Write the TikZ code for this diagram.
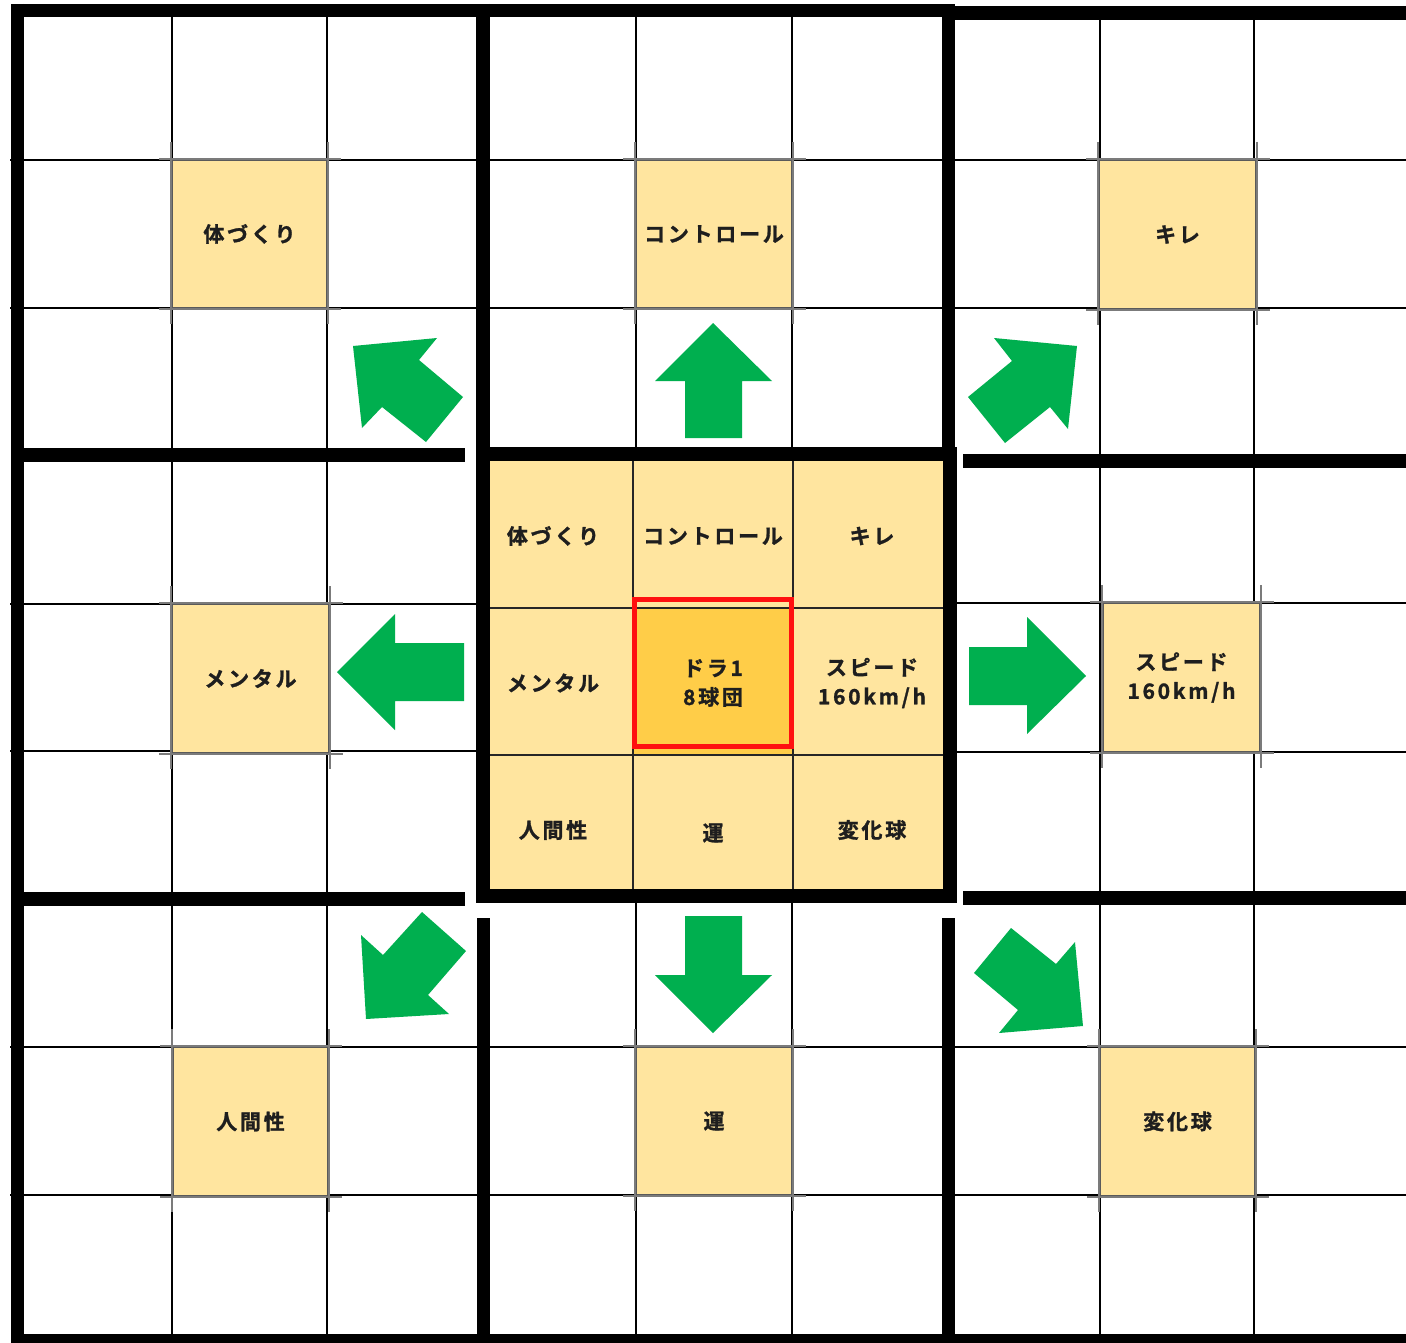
\documentclass[tikz,border=0pt]{standalone}
\usepackage{fontspec}
\newfontfamily\jp{Noto Sans CJK JP}[LetterSpace=13,BoldFont={Noto Sans CJK JP Bold},BoldFeatures={FakeBold=1.3}]
\definecolor{cellY}{HTML}{FFE59F}
\definecolor{cellC}{HTML}{FFCD48}
\definecolor{arrowG}{HTML}{00AF4F}
\definecolor{boxline}{HTML}{5A5A5A}
\definecolor{txt}{HTML}{1E1E1E}
\definecolor{redbox}{HTML}{FF1010}
\tikzset{
  gthin/.style={line width=2.8pt, draw=black},
  gthick/.style={line width=13.5pt, draw=black},
  inthin/.style={line width=2.4pt, draw=black!85},
  jptext/.style={text=txt, font=\jp\bfseries\fontsize{21}{29}\selectfont, align=center},
  pbox/.style={jptext, draw=boxline, line width=2pt, fill=cellY, inner sep=0pt},
  cbox/.style={jptext, inner sep=0pt, minimum width=140pt, minimum height=140pt},
  tickln/.style={draw=boxline!80, line width=2.6pt},
  garrow/.style={fill=arrowG, draw=none},
}
\newcommand\boxticks[1]{%
  \draw[tickln] ([yshift=17pt]#1.north west) -- ([yshift=-15pt]#1.south west);
  \draw[tickln] ([yshift=17pt]#1.north east) -- ([yshift=-15pt]#1.south east);
  \draw[tickln] ([xshift=-12pt]#1.north west) -- ([xshift=13pt]#1.north east);
  \draw[tickln] ([xshift=-12pt]#1.south west) -- ([xshift=13pt]#1.south east);
}
\begin{document}
\begin{tikzpicture}[x=1pt,y=-1pt]
\useasboundingbox (0,0) rectangle (1406,1343);
\clip (0,0) rectangle (1406,1343);
\fill[white] (0,0) rectangle (1406,1343);

% thin grid lines of the outer blocks
\foreach \x in {172,327,1100,1254} \draw[gthin] (\x,10) -- (\x,1343);
\foreach \x in {636,792} {\draw[gthin] (\x,10) -- (\x,455); \draw[gthin] (\x,898) -- (\x,1343);}
\foreach \y in {160,308,1047,1195} \draw[gthin] (10,\y) -- (1406,\y);
\foreach \y in {604,751} \draw[gthin] (10,\y) -- (483,\y);
\foreach \y in {603,752} \draw[gthin] (948,\y) -- (1406,\y);

% thick block lines
\draw[gthick] (11,10.5) -- (955,10.5);
\draw[gthick] (942,13) -- (1406,13);
\draw[gthick] (17.5,4) -- (17.5,1343);
\draw[gthick] (483,4) -- (483,455);
\draw[gthick] (948.5,7) -- (948.5,461);
\draw[gthick] (11,455) -- (465,455);
\draw[gthick] (963,461) -- (1406,461);
\draw[gthick] (11,899) -- (465,899);
\draw[gthick] (963,898) -- (1406,898);
\draw[gthick] (483.5,918) -- (483.5,1343);
\draw[gthick] (948.5,918) -- (948.5,1343);
\draw[gthick] (11,1341) -- (1406,1341);

% central block
\fill[cellY] (482,453) rectangle (950,896);
\fill[cellC] (633,608) rectangle (793,755);
\foreach \x in {633,793} \draw[inthin] (\x,453) -- (\x,896);
\foreach \y in {608,755} \draw[inthin] (482,\y) -- (950,\y);
\draw[line width=14pt, line join=miter] (482.5,453.5) rectangle (949.5,896);
\draw[redbox, line width=5pt] (634.5,599.5) rectangle (791.5,746);

\node[cbox] (c11) at (553,536) {体づくり};
\node[cbox] (c12) at (713,536) {コントロール};
\node[cbox] (c13) at (872,536) {キレ};
\node[cbox] (c21) at (553,683) {メンタル};
\node[cbox] (c22) at (713,683) {ドラ1\\8球団};
\node[cbox] (c23) at (872,683) {スピード\\160km/h};
\node[cbox] (c31) at (553,830) {人間性};
\node[cbox] (c32) at (713,833) {運};
\node[cbox] (c33) at (872,830) {変化球};

% peripheral goal boxes
\node[pbox, minimum width=155pt, minimum height=148pt] (p1) at (249.5,234) {体づくり};
\node[pbox, minimum width=156pt, minimum height=148pt] (p2) at (714,234) {コントロール};
\node[pbox, minimum width=157pt, minimum height=149pt] (p3) at (1177.5,234.5) {キレ};
\node[pbox, minimum width=157pt, minimum height=149pt] (p4) at (250.5,678.5) {メンタル};
\node[pbox, minimum width=157pt, minimum height=149pt] (p5) at (1181.5,677.5) {スピード\\160km/h};
\node[pbox, minimum width=155pt, minimum height=149pt] (p6) at (250.5,1121.5) {人間性};
\node[pbox, minimum width=156pt, minimum height=148pt] (p7) at (714,1121) {運};
\node[pbox, minimum width=155pt, minimum height=149pt] (p8) at (1177.5,1121.5) {変化球};
\foreach \n in {p1,p2,p3,p4,p5,p6,p7,p8} {\boxticks{\n}}

% green block arrows
\fill[garrow] (713,323) -- (772,381) -- (742,381) -- (742,438) -- (685,438) -- (685,381) -- (655,381) -- cycle;
\fill[garrow] (685,916) -- (742,916) -- (742,975) -- (772,975) -- (713,1033) -- (655,975) -- (685,975) -- cycle;
\fill[garrow] (337,672) -- (395,614) -- (395,643) -- (464,643) -- (464,701) -- (395,701) -- (395,730) -- cycle;
\fill[garrow] (969,647) -- (1027,647) -- (1027,617) -- (1086,676) -- (1027,734) -- (1027,705) -- (969,705) -- cycle;
\fill[garrow] (353,346) -- (437,338) -- (419,360) -- (463,397) -- (426,442) -- (382,407) -- (362,428) -- cycle;
\fill[garrow] (1077,346) -- (1068,429) -- (1050,407) -- (1005,443) -- (968,397) -- (1012,361) -- (994,338) -- cycle;
\fill[garrow] (366,1019) -- (361,935) -- (383,955) -- (422,912) -- (466,951) -- (428,995) -- (449,1014) -- cycle;
\fill[garrow] (1083,1026) -- (999,1033) -- (1018,1010) -- (974,973) -- (1011,928) -- (1056,964) -- (1075,942) -- cycle;
\end{tikzpicture}
\end{document}
